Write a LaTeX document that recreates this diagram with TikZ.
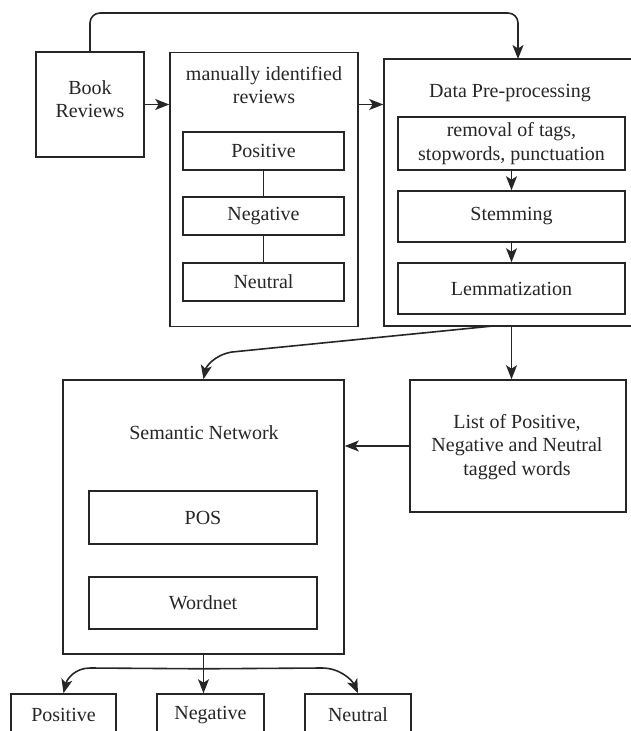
\documentclass[tikz,border=0pt]{standalone}
\usepackage{fontspec}
\setmainfont{Liberation Serif}
\usetikzlibrary{arrows.meta}
\begin{document}
\begin{tikzpicture}[x=1pt,y=-1pt,
  box/.style={draw=black!85, line width=1.6pt, rectangle, inner sep=0pt},
  txt/.style={inner sep=0pt, align=center, font=\rmfamily\fontsize{20}{23.5}\selectfont, text=black!85},
  arr/.style={draw=black!85, line width=1.6pt, -{Stealth[length=14pt,width=11pt,inset=3.5pt]}},
  ln/.style={draw=black!85, line width=1.6pt}]
\useasboundingbox (0,0) rectangle (631,731);
\clip (0,0) rectangle (631,731);
% top row
\node[box, minimum width=108pt, minimum height=105pt] (br) at (90,104.5) {};
\node[txt] (brt) at (90,99) {Book\\Reviews};
\node[box, minimum width=188pt, minimum height=274pt] (man) at (264,189.5) {};
\node[txt] (mant) at (264,85) {manually identified\\reviews};
\node[box, minimum width=161pt, minimum height=38pt] (mpos) at (263.5,151) {};
\node[txt] at (mpos) {Positive};
\node[box, minimum width=161pt, minimum height=38pt] (mneg) at (263.5,216) {};
\node[txt] at (mneg) {Negative};
\node[box, minimum width=161pt, minimum height=38pt] (mneu) at (263.5,282) {};
\node[txt] at (mneu) {Neutral};
\node[box, minimum width=261pt, minimum height=267pt] (dp) at (514.5,192.5) {};
\node[txt] (dpt) at (510,93) {Data Pre-processing};
\node[box, minimum width=227pt, minimum height=53pt] (rem) at (511.5,143.5) {};
\node[txt] at (rem) {removal of tags,\\stopwords, punctuation};
\node[box, minimum width=227pt, minimum height=51pt] (stem) at (511.5,216.5) {};
\node[txt] at (stem) {Stemming};
\node[box, minimum width=227pt, minimum height=51pt] (lem) at (511.5,288.5) {};
\node[txt] at (lem) {Lemmatization};
% middle row
\node[box, minimum width=281pt, minimum height=274pt] (sem) at (203.5,517) {};
\node[txt] (semt) at (204,433) {Semantic Network};
\node[box, minimum width=228pt, minimum height=53pt] (pos) at (203,517.5) {};
\node[txt] at (pos) {POS};
\node[box, minimum width=228pt, minimum height=52pt] (wn) at (203,603) {};
\node[txt] at (wn) {Wordnet};
\node[box, minimum width=216pt, minimum height=132pt] (list) at (518,446) {};
\node[txt] at (517,447) {List of Positive,\\Negative and Neutral\\tagged words};
% bottom row
\node[box, minimum width=105pt, minimum height=44pt] (bpos) at (63.5,716) {};
\node[txt] at (63.5,715) {Positive};
\node[box, minimum width=107pt, minimum height=44pt] (bneg) at (210.5,716) {};
\node[txt] at (210.5,715) {Negative};
\node[box, minimum width=106pt, minimum height=44pt] (bneu) at (358,716) {};
\node[txt] at (358,715) {Neutral};
% coordinates
\coordinate (dpin) at (518,59);
\coordinate (c1) at (493,326);
% connectors
\draw[arr, rounded corners=10pt] (br.north) -- (90,13) -- (518,13) -- (dpin);
\draw[arr] (br.east) -- (man.west |- br.east);
\draw[arr] (man.east |- br.east) -- (dp.west |- br.east);
\draw[ln] (mpos.south) -- (mneg.north);
\draw[ln] (mneg.south) -- (mneu.north);
\draw[arr] (rem.south) -- (stem.north);
\draw[arr] (stem.south) -- (lem.north);
\draw[arr] (dp.south -| rem.south) -- (rem.south |- list.north);
\draw[arr] (c1) -- (232,352) .. controls (214,355) and (206,367) .. (sem.north);
\draw[arr] (list.west) -- (sem.east |- list.west);
\draw[arr] (sem.south) -- (bneg.north -| sem.south);
\draw[arr] (sem.south) ++(0,14) -- (90,668) .. controls (75,668) and (67,679) .. (bpos.north);
\draw[arr] (sem.south) ++(0,14) -- (322,668) .. controls (340,668) and (352,680) .. (bneu.north);
\end{tikzpicture}
\end{document}
